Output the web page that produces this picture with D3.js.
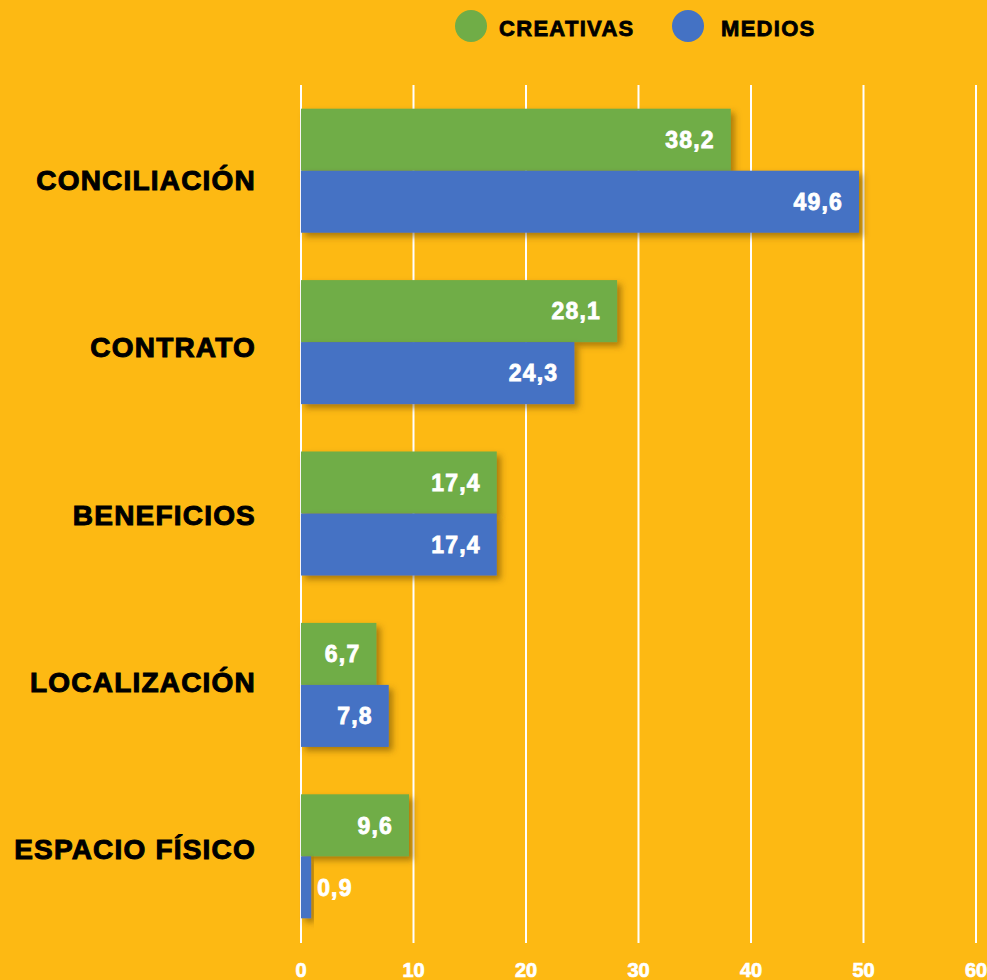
<!DOCTYPE html>
<html>
<head>
<meta charset="utf-8">
<script src="https://cdn.jsdelivr.net/npm/d3@7/dist/d3.min.js"></script>
<style>
  html, body { margin: 0; padding: 0; background: #FDB913; overflow: hidden; }
  svg { display: block; }
  text { font-family: "Liberation Sans", Arial, sans-serif; font-weight: bold; }
</style>
</head>
<body>
<svg id="chart" width="987" height="980"></svg>
<script>
const categories = ["CONCILIACIÓN", "CONTRATO", "BENEFICIOS", "LOCALIZACIÓN", "ESPACIO FÍSICO"];
const seriesNames = ["CREATIVAS", "MEDIOS"];
const creativas = [38.2, 28.1, 17.4, 6.7, 9.6];
const medios = [49.6, 24.3, 17.4, 7.8, 0.9];
const tickValues = [0, 10, 20, 30, 40, 50, 60];
const colors = ["#70AD47", "#4472C4"];

const W = 987, H = 980;
const svg = d3.select("#chart");
svg.append("rect").attr("width", W).attr("height", H).attr("fill", "#FDB913");

const defs = svg.append("defs");
const f = defs.append("filter").attr("id", "shadow")
  .attr("x", "-10%").attr("y", "-10%").attr("width", "130%").attr("height", "130%");
f.append("feDropShadow").attr("dx", 4).attr("dy", 4).attr("stdDeviation", 3)
  .attr("flood-color", "#5a3a00").attr("flood-opacity", 0.5);

const plotTop = 85, plotBottom = 943;
const x = d3.scaleLinear().domain([0, 60]).range([301, 976]);
const p = 0.2765;
const y = d3.scaleBand().domain(categories).range([plotTop, plotBottom - 1])
  .paddingInner(p).paddingOuter(p / 2);
const ySub = d3.scaleBand().domain(seriesNames).range([0, y.bandwidth()]);
const yLabel = d3.scalePoint().domain(categories).range([180, 849]);

// gridlines
svg.append("g").selectAll("line").data(tickValues).join("line")
  .attr("x1", d => x(d)).attr("x2", d => x(d))
  .attr("y1", plotTop).attr("y2", plotBottom)
  .attr("stroke", "#ffffff").attr("stroke-width", 2);

// tick labels
svg.append("g").selectAll("text").data(tickValues).join("text")
  .attr("x", d => x(d)).attr("y", 977)
  .attr("text-anchor", "middle")
  .attr("fill", "#ffffff").attr("stroke", "#ffffff").attr("stroke-width", 0.7)
  .attr("font-size", 20)
  .text(d => d);

// bars
const rows = categories.map((c, i) => ({ cat: c, vals: [creativas[i], medios[i]] }));
const groups = svg.append("g").selectAll("g").data(rows).join("g")
  .attr("transform", d => `translate(0,${y(d.cat)})`);

groups.selectAll("rect").data(d => d.vals.map((v, j) => ({ v, s: seriesNames[j], j })))
  .join("rect")
  .attr("x", x(0))
  .attr("y", d => ySub(d.s))
  .attr("width", d => x(d.v) - x(0))
  .attr("height", ySub.bandwidth())
  .attr("fill", d => colors[d.j])
  .attr("filter", "url(#shadow)");

const fmt = v => d3.format(".1f")(v).replace(".", ",");
groups.selectAll("text").data(d => d.vals.map((v, j) => ({ v, s: seriesNames[j], j })))
  .join("text")
  .attr("x", d => (x(d.v) - x(0) > 55) ? x(d.v) - 16 : x(d.v) + 6)
  .attr("text-anchor", d => (x(d.v) - x(0) > 55) ? "end" : "start")
  .attr("y", d => ySub(d.s) + ySub.bandwidth() / 2)
  .attr("dy", "0.36em")
  .attr("fill", "#ffffff").attr("stroke", "#ffffff").attr("stroke-width", 0.8)
  .attr("font-size", 23)
  .attr("letter-spacing", "1.2px")
  .text(d => fmt(d.v));

// category labels
svg.append("g").selectAll("text").data(categories).join("text")
  .attr("x", 256).attr("y", d => yLabel(d))
  .attr("dy", "0.36em")
  .attr("text-anchor", "end")
  .attr("fill", "#000000").attr("stroke", "#000000").attr("stroke-width", 1)
  .attr("font-size", 28)
  .attr("letter-spacing", "1.2px")
  .text(d => d);

// legend
const legendX = [471, 688];
const leg = svg.append("g").selectAll("g").data(seriesNames).join("g")
  .attr("transform", (d, i) => `translate(${legendX[i]},26)`);
leg.append("circle").attr("r", 16).attr("fill", (d, i) => colors[i]);
leg.append("text").attr("x", (d, i) => i === 0 ? 28 : 33).attr("y", 10)
  .attr("fill", "#000000").attr("stroke", "#000000").attr("stroke-width", 0.8)
  .attr("font-size", 22).attr("letter-spacing", "1.3px")
  .text(d => d);
</script>
</body>
</html>
